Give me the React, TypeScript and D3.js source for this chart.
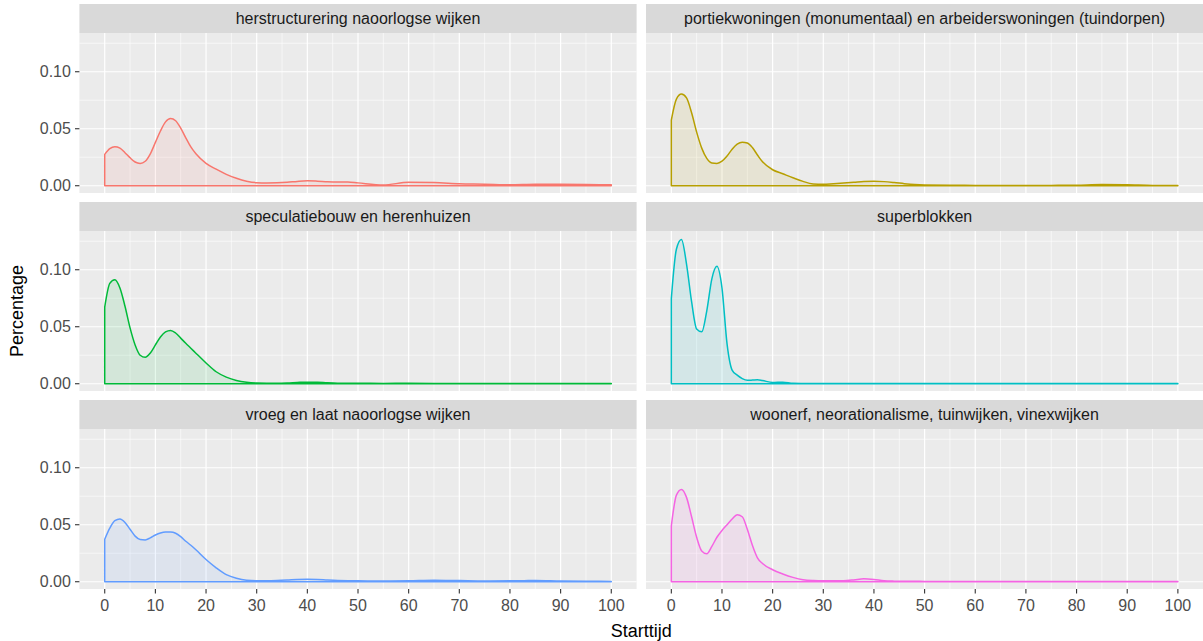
import React from "react";
import * as d3 from "d3";

// ---------- data ----------
const categories = [
  "herstructurering naoorlogse wijken",
  "portiekwoningen (monumentaal) en arbeiderswoningen (tuindorpen)",
  "speculatiebouw en herenhuizen",
  "superblokken",
  "vroeg en laat naoorlogse wijken",
  "woonerf, neorationalisme, tuinwijken, vinexwijken",
];

const colors = ["#F8766D", "#B79F00", "#00BA38", "#00BFC4", "#619CFF", "#F564E3"];

const starttijd = [
  0, 1, 2, 3, 4, 5, 6, 7, 8, 9, 10, 11, 12, 13, 14, 15, 16, 17, 18,
  20, 22, 24, 26, 28, 30, 32, 34, 36, 38, 40, 42, 44, 46, 48, 50,
  55, 60, 65, 70, 75, 80, 85, 90, 95, 100,
];

const herstructurering = [
  0.0275, 0.0325, 0.0342, 0.033, 0.029, 0.0245, 0.0208, 0.0196, 0.0215, 0.028, 0.038, 0.048, 0.056, 0.059, 0.057, 0.0505, 0.042, 0.034, 0.028,
  0.0196, 0.0145, 0.01, 0.0065, 0.004, 0.0027, 0.0025, 0.0026, 0.003, 0.0038, 0.0043, 0.004, 0.0035, 0.0033, 0.0033, 0.0025,
  0.0007, 0.003, 0.0028, 0.0018, 0.0014, 0.0008, 0.0013, 0.0012, 0.001, 0.0009,
];
const portiekwoningen = [
  0.0576, 0.076, 0.0804, 0.077, 0.064, 0.047, 0.033, 0.024, 0.02, 0.0196, 0.0215, 0.026, 0.032, 0.0365, 0.0382, 0.0375, 0.0335, 0.027, 0.021,
  0.014, 0.0105, 0.007, 0.0038, 0.0016, 0.0012, 0.0018, 0.0024, 0.003, 0.0037, 0.0039, 0.0036, 0.0028, 0.0018, 0.001, 0.0006,
  0.0004, 0.0003, 0.0003, 0.0003, 0.0003, 0.0005, 0.001, 0.0008, 0.0003, 0.0002,
];
const speculatiebouw = [
  0.0672, 0.088, 0.0912, 0.084, 0.068, 0.049, 0.034, 0.025, 0.0232, 0.027, 0.034, 0.041, 0.0455, 0.0468, 0.0445, 0.04, 0.0355, 0.0312, 0.0268,
  0.0182, 0.0105, 0.0058, 0.0028, 0.0012, 0.0006, 0.0005, 0.0005, 0.0007, 0.0011, 0.0014, 0.0012, 0.0008, 0.0005, 0.0004, 0.0004,
  0.0003, 0.0004, 0.0003, 0.0003, 0.0002, 0.0002, 0.0002, 0.0002, 0.0002, 0.0002,
];
const superblokken = [
  0.0746, 0.118, 0.1265, 0.105, 0.072, 0.048, 0.0455, 0.064, 0.092, 0.103, 0.084, 0.035, 0.012, 0.0075, 0.0045, 0.003, 0.0032, 0.0035, 0.0028,
  0.0011, 0.0014, 0.0004, 0.0002, 0.0001, 0.0001, 0.0001, 0.0001, 0.0001, 0.0001, 0.0001, 0.0001, 0.0001, 0.0001, 0.0001, 0.0001,
  0.0001, 0.0001, 0.0001, 0.0001, 0.0001, 0.0001, 0.0001, 0.0001, 0.0001, 0.0001,
];
const vroegLaat = [
  0.0372, 0.047, 0.0535, 0.055, 0.052, 0.046, 0.04, 0.037, 0.0367, 0.0385, 0.041, 0.0428, 0.0436, 0.0436, 0.0425, 0.0395, 0.0355, 0.032, 0.028,
  0.0195, 0.0122, 0.0062, 0.003, 0.0013, 0.0009, 0.0009, 0.0011, 0.0015, 0.002, 0.0022, 0.002, 0.0015, 0.0011, 0.0009, 0.0008,
  0.0006, 0.0008, 0.0014, 0.001, 0.0006, 0.0008, 0.001, 0.0006, 0.0004, 0.0003,
];
const woonerf = [
  0.0489, 0.076, 0.081, 0.074, 0.057, 0.039, 0.027, 0.0245, 0.031, 0.039, 0.045, 0.05, 0.055, 0.0588, 0.057, 0.046, 0.032, 0.021, 0.016,
  0.0105, 0.0068, 0.0038, 0.0017, 0.001, 0.0008, 0.0008, 0.0009, 0.0016, 0.0026, 0.002, 0.0008, 0.0005, 0.0004, 0.0004, 0.0003,
  0.0003, 0.0003, 0.0003, 0.0003, 0.0003, 0.0003, 0.0003, 0.0003, 0.0003, 0.0003,
];

const seriesValues = [herstructurering, portiekwoningen, speculatiebouw, superblokken, vroegLaat, woonerf];

const xTicks = [0, 10, 20, 30, 40, 50, 60, 70, 80, 90, 100];
const xMinor = [5, 15, 25, 35, 45, 55, 65, 75, 85, 95];
const yTicks = [0, 0.05, 0.1];
const yMinor = [0.025, 0.075, 0.125];
const yTickLabels = ["0.00", "0.05", "0.10"];

// ---------- layout ----------
const W = 1203;
const H = 641;
const colX = [79.4, 646];
const panelW = 557.2;
const panelH = 160;
const rowTop = [33, 231, 429];
const stripH = 29;
const FONT = "'Liberation Sans', Arial, Helvetica, sans-serif";
const SMALL = 16;
const TITLE = 18;

const yMaxData = 0.1276;
const yPad = yMaxData * 0.05;

export default function App() {
  const xDomain: [number, number] = [-5, 105];
  const yDomain: [number, number] = [-yPad, yMaxData + yPad];

  const panels = categories.map((cat, i) => {
    const col = i % 2;
    const row = Math.floor(i / 2);
    const x0 = colX[col];
    const y0 = rowTop[row];
    const x = d3.scaleLinear().domain(xDomain).range([x0, x0 + panelW]);
    const y = d3.scaleLinear().domain(yDomain).range([y0 + panelH, y0]);
    const pts: [number, number][] = starttijd.map((t, k) => [t, seriesValues[i][k]]);
    const area = d3
      .area<[number, number]>()
      .x((d) => x(d[0]))
      .y0(y(0))
      .y1((d) => y(d[1]))
      .curve(d3.curveMonotoneX);
    const line = d3
      .line<[number, number]>()
      .x((d) => x(d[0]))
      .y((d) => y(d[1]))
      .curve(d3.curveMonotoneX);
    const lp = line(pts) || "";
    const outline = `M${x(0)},${y(0)}L` + lp.slice(1) + `L${x(100)},${y(0)}Z`;
    const color = colors[i];
    return (
      <g key={cat}>
        <rect x={x0} y={y0} width={panelW} height={panelH} fill="#EBEBEB" />
        {xMinor.map((v) => (
          <line key={"xm" + v} x1={x(v)} x2={x(v)} y1={y0} y2={y0 + panelH} stroke="#fff" strokeWidth={0.6} />
        ))}
        {yMinor.map((v) => (
          <line key={"ym" + v} x1={x0} x2={x0 + panelW} y1={y(v)} y2={y(v)} stroke="#fff" strokeWidth={0.6} />
        ))}
        {xTicks.map((v) => (
          <line key={"xM" + v} x1={x(v)} x2={x(v)} y1={y0} y2={y0 + panelH} stroke="#fff" strokeWidth={1.2} />
        ))}
        {yTicks.map((v) => (
          <line key={"yM" + v} x1={x0} x2={x0 + panelW} y1={y(v)} y2={y(v)} stroke="#fff" strokeWidth={1.2} />
        ))}
        <path d={area(pts) || ""} fill={color} fillOpacity={0.1} stroke="none" />
        <path d={outline} fill="none" stroke={color} strokeWidth={1.5} strokeLinejoin="round" />
        {/* strip */}
        <rect x={x0} y={y0 - stripH} width={panelW} height={stripH} fill="#D9D9D9" />
        <text
          x={x0 + panelW / 2}
          y={y0 - stripH / 2}
          textAnchor="middle"
          dominantBaseline="central"
          fontSize={SMALL}
          fill="#1A1A1A"
          fontFamily={FONT}
        >
          {cat}
        </text>
        {/* y axis on left column */}
        {col === 0 &&
          yTicks.map((v, k) => (
            <g key={"yt" + v}>
              <line x1={x0 - 4.4} x2={x0} y1={y(v)} y2={y(v)} stroke="#333" strokeWidth={1.1} />
              <text
                x={x0 - 8.5}
                y={y(v)}
                textAnchor="end"
                dominantBaseline="central"
                fontSize={SMALL}
                fill="#4D4D4D"
                fontFamily={FONT}
              >
                {yTickLabels[k]}
              </text>
            </g>
          ))}
        {/* x axis on bottom row */}
        {row === 2 &&
          xTicks.map((v) => (
            <g key={"xt" + v}>
              <line x1={x(v)} x2={x(v)} y1={y0 + panelH} y2={y0 + panelH + 4.4} stroke="#333" strokeWidth={1.1} />
              <text
                x={x(v)}
                y={y0 + panelH + 16}
                textAnchor="middle"
                dominantBaseline="central"
                fontSize={SMALL}
                fill="#4D4D4D"
                fontFamily={FONT}
              >
                {v}
              </text>
            </g>
          ))}
      </g>
    );
  });

  return (
    <svg
      width={W}
      height={H}
      style={{ position: "absolute", left: 0, top: 0, display: "block" }}
      fontFamily={FONT}
    >
      <rect x={0} y={0} width={W} height={H} fill="#fff" />
      {panels}
      <text x={(colX[0] + colX[1] + panelW) / 2} y={636.5} textAnchor="middle" fontSize={TITLE} fill="#000" fontFamily={FONT}>
        Starttijd
      </text>
      <text
        transform={`translate(23,${(rowTop[0] + rowTop[2] + panelH) / 2}) rotate(-90)`}
        textAnchor="middle"
        fontSize={TITLE}
        fill="#000"
        fontFamily={FONT}
      >
        Percentage
      </text>
    </svg>
  );
}
